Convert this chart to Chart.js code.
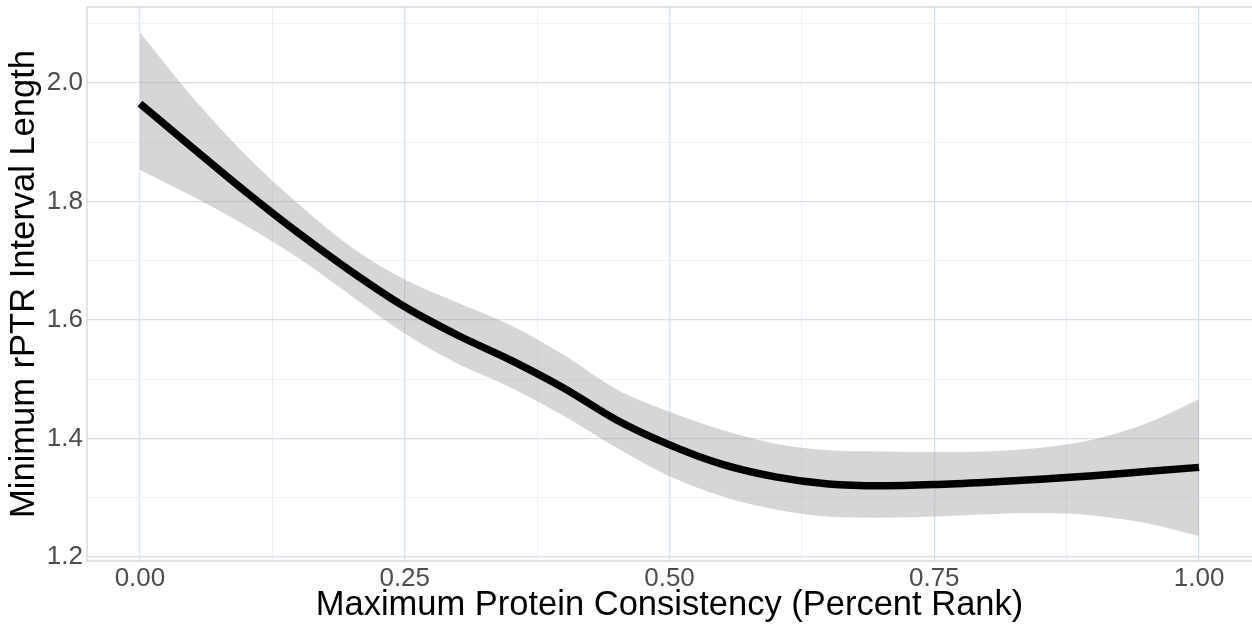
<!DOCTYPE html>
<html lang="en">
<head>
  <meta charset="UTF-8" />
  <title>Minimum rPTR Interval Length</title>
  <script src="https://cdn.jsdelivr.net/npm/chart.js"></script>
  <style>
    html, body { margin: 0; padding: 0; background: #fff; }
    canvas { display: block; }
  </style>
</head>
<body>
  <canvas id="smoothChart" width="1252" height="627"></canvas>

  <script>
    // loess fit with 95% band
    const rank = [0, 0.05, 0.10, 0.15, 0.20, 0.25, 0.30, 0.35, 0.40, 0.45, 0.50,
                  0.55, 0.60, 0.65, 0.70, 0.75, 0.80, 0.85, 0.90, 0.95, 1.00];
    const fit = [1.965, 1.89, 1.816, 1.746, 1.681, 1.622, 1.574, 1.532, 1.485, 1.431, 1.389,
                 1.356, 1.335, 1.323, 1.320, 1.322, 1.326, 1.331, 1.337, 1.344, 1.351];
    const upper = [2.085, 1.975, 1.878, 1.795, 1.722, 1.668, 1.629, 1.591, 1.541, 1.483, 1.445,
                   1.414, 1.391, 1.380, 1.378, 1.377, 1.378, 1.384, 1.398, 1.425, 1.466];
    const lower = [1.853, 1.808, 1.759, 1.704, 1.640, 1.577, 1.526, 1.486, 1.438, 1.384, 1.336,
                   1.302, 1.280, 1.268, 1.266, 1.268, 1.272, 1.274, 1.270, 1.257, 1.235];

    const xTicks = [0, 0.125, 0.25, 0.375, 0.5, 0.625, 0.75, 0.875, 1];
    const xMajor = [0, 0.25, 0.5, 0.75, 1];
    const yTicks = [1.2, 1.3, 1.4, 1.5, 1.6, 1.7, 1.8, 1.9, 2.0, 2.1];
    const yMajor = [1.2, 1.4, 1.6, 1.8, 2.0];

    const pts = ys => rank.map((x, i) => ({ x: x, y: ys[i] }));
    const isMajor = (list, v) => list.some(m => Math.abs(m - v) < 1e-6);

    const FONT = "'Liberation Sans', Arial, Helvetica, sans-serif";

    // panel outline, drawn under the data
    const panelBorder = {
      id: "panelBorder",
      beforeDatasetsDraw(chart) {
        const { ctx, chartArea: a } = chart;
        ctx.save();
        ctx.strokeStyle = "#cfd3d8";
        ctx.lineWidth = 1.2;
        ctx.strokeRect(a.left, a.top, a.right - a.left + 4, a.bottom - a.top);
        ctx.restore();
      }
    };

    // no extra room for half-labels at the ends of the axes
    const noEdgePad = s => {
      s.paddingTop = 0; s.paddingBottom = 0;
      s.paddingLeft = 0; s.paddingRight = 0;
    };

    new Chart(document.getElementById("smoothChart"), {
      type: "line",
      data: {
        datasets: [
          {
            data: pts(fit),
            order: 0,
            borderColor: "#000",
            borderWidth: 7.5,
            pointRadius: 0,
            fill: false,
            borderCapStyle: "butt",
            cubicInterpolationMode: "monotone"
          },
          {
            data: pts(upper),
            order: 1,
            borderWidth: 0,
            pointRadius: 0,
            fill: "+1",
            backgroundColor: "rgba(153,153,153,0.4)",
            cubicInterpolationMode: "monotone"
          },
          {
            data: pts(lower),
            order: 2,
            borderWidth: 0,
            pointRadius: 0,
            fill: false,
            cubicInterpolationMode: "monotone"
          }
        ]
      },
      options: {
        responsive: false,
        animation: false,
        layout: { padding: { top: 7, right: 0, left: 0, bottom: 0 } },
        plugins: { legend: { display: false }, tooltip: { enabled: false } },
        scales: {
          x: {
            type: "linear",
            min: -0.05,
            max: 1.05,
            afterBuildTicks: s => { s.ticks = xTicks.map(v => ({ value: v })); },
            afterFit: s => { s.height = 66; noEdgePad(s); },
            border: { display: false },
            grid: {
              drawTicks: false,
              color: c => isMajor(xMajor, c.tick.value) ? "#d8e3f0" : "#ebf1f9",
              lineWidth: c => isMajor(xMajor, c.tick.value) ? 1.3 : 1
            },
            ticks: {
              padding: 2,
              color: "#4d4d4d",
              font: { family: FONT, size: 26 },
              maxRotation: 0,
              autoSkip: false,
              callback: v => isMajor(xMajor, v) ? v.toFixed(2) : ""
            },
            title: {
              display: true,
              text: "Maximum Protein Consistency (Percent Rank)",
              color: "#000",
              font: { family: FONT, size: 34.5 },
              padding: { top: 0, bottom: 1 }
            }
          },
          y: {
            type: "linear",
            min: 1.193,
            max: 2.128,
            afterBuildTicks: s => { s.ticks = yTicks.map(v => ({ value: v })); },
            afterFit: s => { s.width = 87; noEdgePad(s); },
            border: { display: false },
            grid: {
              drawTicks: false,
              color: c => isMajor(yMajor, c.tick.value) ? "#d9dfe7" : "#edf2f8",
              lineWidth: c => isMajor(yMajor, c.tick.value) ? 1.3 : 1
            },
            ticks: {
              padding: 4,
              color: "#4d4d4d",
              font: { family: FONT, size: 26 },
              autoSkip: false,
              callback: v => isMajor(yMajor, v) ? v.toFixed(1) : ""
            },
            title: {
              display: true,
              text: "Minimum rPTR Interval Length",
              color: "#000",
              font: { family: FONT, size: 34.5 },
              padding: { top: 4, bottom: 0 }
            }
          }
        }
      },
      plugins: [panelBorder]
    });
  </script>
</body>
</html>
